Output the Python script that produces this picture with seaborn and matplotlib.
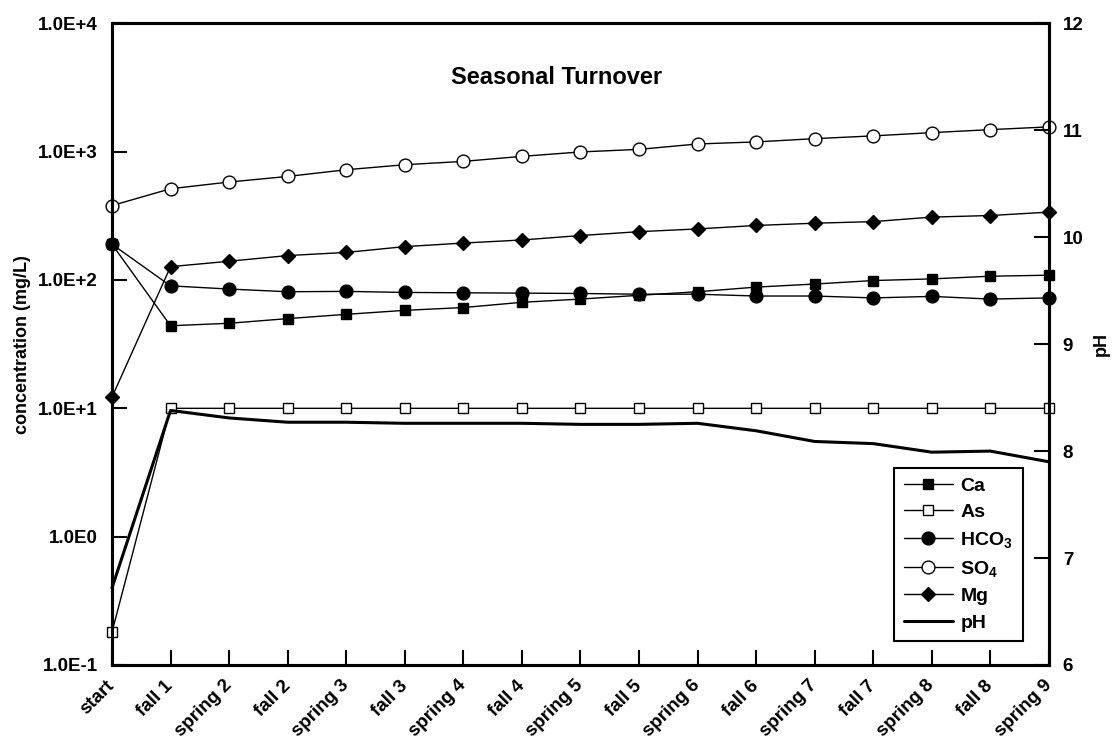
import numpy as np
import pandas as pd
import seaborn as sns
import matplotlib.pyplot as plt
from matplotlib.ticker import NullLocator

# Sampling events
labels = ["start", "fall 1", "spring 2", "fall 2", "spring 3", "fall 3", "spring 4",
          "fall 4", "spring 5", "fall 5", "spring 6", "fall 6", "spring 7", "fall 7",
          "spring 8", "fall 8", "spring 9"]

# Concentrations (mg/L)
ca = [190, 44, 46, 50, 54, 58, 61, 67, 71, 76, 81, 88, 93, 99, 102, 107, 109]
as_ = [0.18, 10, 10, 10, 10, 10, 10, 10, 10, 10, 10, 10, 10, 10, 10, 10, 10]
hco3 = [190, 90, 85, 81, 81.5, 80, 79.5, 79, 78.5, 77.5, 77.5, 75, 75, 72.5, 74.5, 71, 72.5]
so4 = [380, 514, 580, 641, 723, 791, 840, 919, 995, 1042, 1148, 1191, 1263, 1327, 1407, 1485, 1560]
mg = [12.2, 127, 140, 155, 164, 182, 194, 205, 222, 238, 250, 266, 277, 285, 309, 318, 338]

# pH (right axis)
ph = [6.72, 8.38, 8.31, 8.27, 8.27, 8.26, 8.26, 8.26, 8.25, 8.25, 8.26, 8.19, 8.09, 8.07, 7.99, 8.00, 7.90]

conc_ticks = [0.1, 1, 10, 100, 1000, 10000]
conc_ticklabels = ["1.0E-1", "1.0E0", "1.0E+1", "1.0E+2", "1.0E+3", "1.0E+4"]
ph_ticks = [6, 7, 8, 9, 10, 11, 12]

df = pd.DataFrame({"event": np.arange(len(labels)), "Ca": ca, "As": as_,
                   "HCO3": hco3, "SO4": so4, "Mg": mg, "pH": ph})

sns.set_theme(style="white")
plt.rcParams["font.family"] = ["Liberation Sans", "DejaVu Sans"]
plt.rcParams["font.weight"] = "bold"
plt.rcParams["text.color"] = "black"
plt.rcParams["axes.labelcolor"] = "black"
plt.rcParams["xtick.color"] = "black"
plt.rcParams["ytick.color"] = "black"
plt.rcParams["mathtext.fontset"] = "custom"
plt.rcParams["mathtext.rm"] = "Liberation Sans:bold"
plt.rcParams["mathtext.default"] = "rm"

fig = plt.figure(figsize=(11.14, 7.43), dpi=100)
ax = fig.add_axes([0.1005, 0.105, 0.8411, 0.8636])

series = [
    ("Ca", "Ca", "s", "black", 7.5),
    ("As", "As", "s", "white", 7.5),
    ("HCO3", "HCO$_3$", "o", "black", 9.2),
    ("SO4", "SO$_4$", "o", "white", 9.2),
    ("Mg", "Mg", "D", "black", 7.4),
]

for col, name, mk, fc, ms in series:
    sns.lineplot(data=df, x="event", y=col, ax=ax, color="black", lw=1.0,
                 marker=mk, markerfacecolor=fc, markeredgecolor="black",
                 markeredgewidth=1.0, markersize=ms, clip_on=False,
                 errorbar=None, legend=False, zorder=3)

ax.set_yscale("log")
ax.set_ylim(0.1, 1e4)
ax.set_xlim(0, len(labels) - 1)
ax.set_yticks(conc_ticks)
ax.set_yticklabels(conc_ticklabels)
ax.yaxis.set_minor_locator(NullLocator())
ax.set_xticks(df["event"])
ax.set_xticklabels(labels, rotation=45, ha="right", va="center",
                   rotation_mode="anchor")
ax.set_xlabel("")
ax.set_ylabel("concentration (mg/L)", fontsize=13, fontweight="bold", labelpad=5)
ax.tick_params(axis="both", which="major", direction="in", length=11, width=1.5,
               labelsize=13.5, colors="black", bottom=True, left=True,
               right=False, top=False)
ax.tick_params(axis="x", pad=13)
ax.tick_params(axis="y", pad=10)

ax2 = ax.twinx()
sns.lineplot(data=df, x="event", y="pH", ax=ax2, color="black", lw=2.2,
             clip_on=False, errorbar=None, legend=False, zorder=4)
ax2.set_ylim(6, 12)
ax2.set_yticks(ph_ticks)
ax2.set_ylabel("pH", fontsize=13, fontweight="bold", labelpad=7)
ax2.tick_params(axis="y", direction="in", length=11, width=1.5, labelsize=13.5,
                right=True, left=False, pad=10, colors="black")

for a in (ax, ax2):
    for sp in a.spines.values():
        sp.set_color("black")
        sp.set_linewidth(2.2)

handles = list(ax.get_lines()) + list(ax2.get_lines())
names = [s[1] for s in series] + ["pH"]
leg = ax2.legend(handles=handles, labels=names, loc="lower right",
                 bbox_to_anchor=(0.972, 0.037), frameon=True, fancybox=False,
                 edgecolor="black", framealpha=1, fontsize=14, handlelength=2.5,
                 labelspacing=0.45, borderpad=0.5, handletextpad=0.4,
                 borderaxespad=0)
leg.get_frame().set_linewidth(1.5)

fig.text(557 / 1114, 1 - 78 / 743, "Seasonal Turnover", ha="center", va="center",
         fontsize=17, fontweight="bold", color="black")

fig.savefig("out.png", dpi=100)
